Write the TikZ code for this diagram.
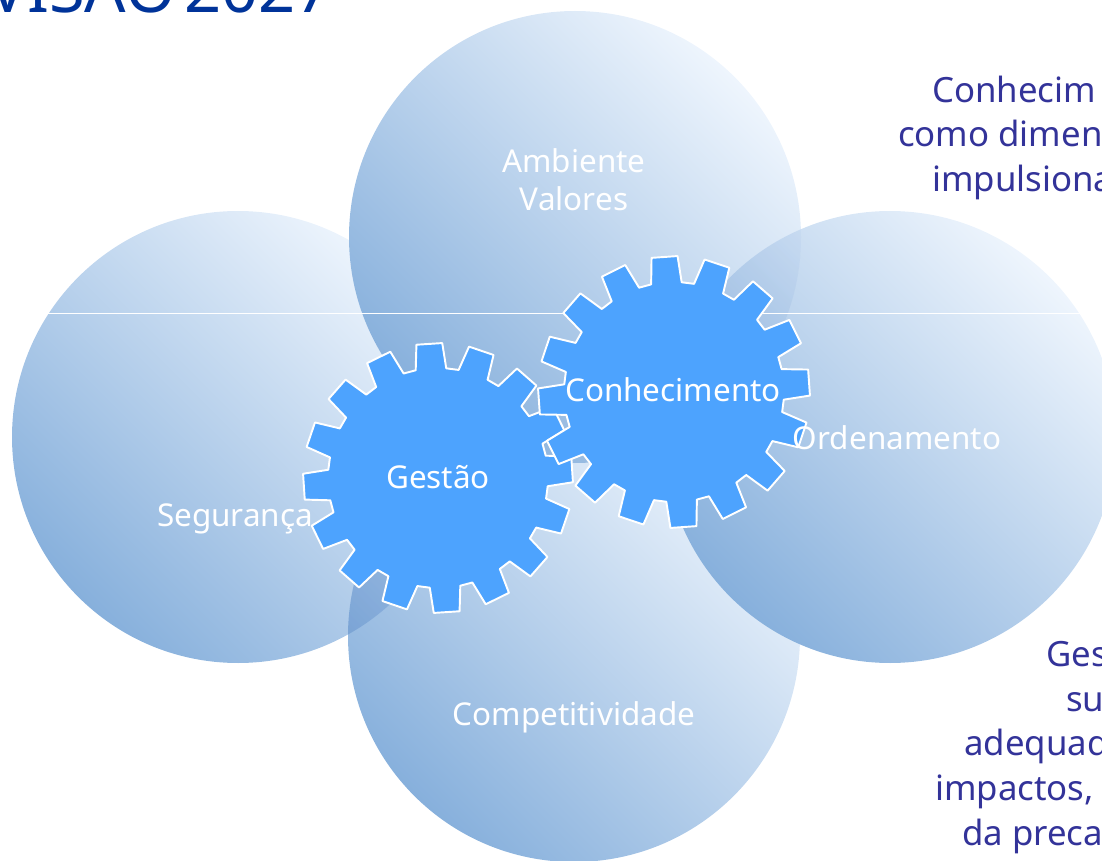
\documentclass[tikz,border=0pt]{standalone}
\usepackage{fontspec}
\setmainfont{Noto Sans}
\definecolor{titleblue}{HTML}{003399}
\definecolor{sidetext}{HTML}{333399}
\definecolor{geartone}{HTML}{4DA3FE}
\definecolor{circledark}{HTML}{87B0DC}
\definecolor{circlelight}{HTML}{EEF5FD}
\tikzset{
    discfill/.style={bottom color=circledark, top color=circlelight, shading angle=-45},
    overlapfill/.style={discfill, blend mode=multiply, fill opacity=.55},
    gearline/.style={fill=geartone, draw=white, line width=1.1pt, line join=round},
    whitelabel/.style={text=white, font=\fontsize{17.9}{20}\selectfont, anchor=base},
    sidelabel/.style={text=sidetext, font=\fontsize{19.8}{20}\selectfont, anchor=base west}
}
\newcommand{\gearteeth}[4]{%
    \path[gearline, shift={(#1,#2)}] (#3-8:110)
        \foreach \tooth in {0,...,15} {
            -- ({#3+22.5*\tooth-8}:110) -- ({#3+22.5*\tooth-5.5}:#4)
            -- ({#3+22.5*\tooth+5.5}:#4) -- ({#3+22.5*\tooth+8}:110)
        } -- cycle;
}
\begin{document}
\begin{tikzpicture}[x=0.02cm, y=-0.02cm]
    \useasboundingbox (0,0) rectangle (1102,861);
    \clip (0,0) rectangle (1102,861);

    \shade[discfill] (238,437) circle (226);
    \shade[discfill] (574,636) circle (226);
    \begin{scope}
        \clip (574,636) circle (226);
        \shade[overlapfill] (238,437) circle (226);
    \end{scope}
    \shade[discfill] (890,437) circle (226);
    \shade[discfill] (575,237) circle (226);
    \begin{scope}
        \clip (575,237) circle (226);
        \shade[overlapfill] (890,437) circle (226);
    \end{scope}

    \draw[white, line width=0.4pt] (48,313) -- (1086,313);

    \gearteeth{438}{478}{-3.7}{135}
    \gearteeth{674}{392}{-4}{136}

    \node[whitelabel] (ambiente) at (574,173) {Ambiente};
    \node[whitelabel] (valores) at (574,211) {Valores};
    \node[whitelabel] (seguranca) at (235,526) {Segurança};
    \node[whitelabel] (gestao) at (438,488) {Gestão};
    \node[whitelabel] (conhecimento) at (673,401) {Conhecimento};
    \node[whitelabel] (ordenamento) at (897,449) {Ordenamento};
    \node[whitelabel] (competitividade) at (574,725) {Competitividade};

    \node[text=titleblue, font=\fontsize{37}{40}\selectfont, anchor=base west] (visao) at (-18,13) {VISÃO\hspace{-5pt} 2027};

    \node[sidelabel] (side1) at (926,103) {Conhecim};
    \node[sidelabel] (side2) at (892,147) {como dimen};
    \node[sidelabel] (side3) at (926,192) {impulsiona};
    \node[sidelabel] (side4) at (1040,666) {Ges};
    \node[sidelabel] (side5) at (1060,711) {su};
    \node[sidelabel] (side6) at (958,755) {adequad};
    \node[sidelabel] (side7) at (929,800) {impactos,};
    \node[sidelabel] (side8) at (956,845) {da preca};
\end{tikzpicture}
\end{document}
